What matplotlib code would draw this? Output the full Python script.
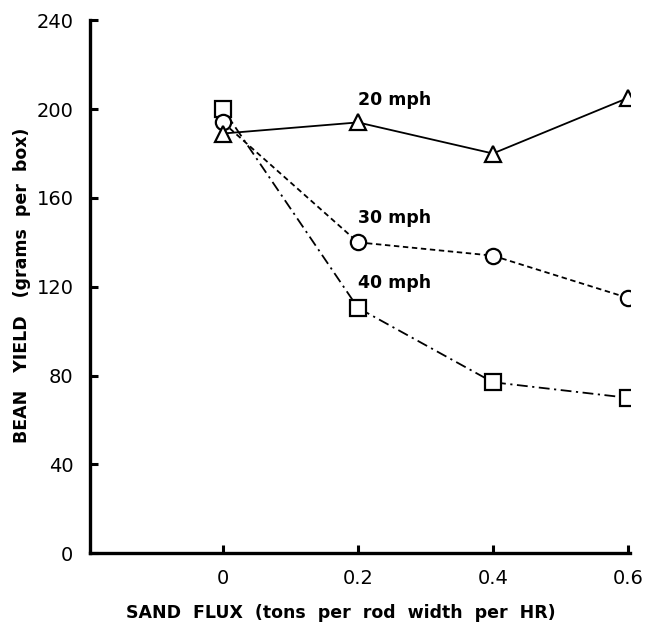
import matplotlib
matplotlib.use("Agg")
import matplotlib.pyplot as plt

flux = [0.0, 0.2, 0.4, 0.6]
yield_20 = [189, 194, 180, 205]
yield_30 = [194, 140, 134, 115]
yield_40 = [200, 110.5, 77, 70]
series_labels = ["20 mph", "30 mph", "40 mph"]
label_pos = [(0.2, 204), (0.2, 151), (0.2, 121.5)]
xticks = [0, 0.2, 0.4, 0.6]
xtick_labels = ["0", "0.2", "0.4", "0.6"]
yticks = [0, 40, 80, 120, 160, 200, 240]

plt.rcParams['font.family'] = ['DejaVu Sans']
fig = plt.figure(figsize=(6.48, 6.33), dpi=100)
ax = fig.add_axes([0.139, 0.126, 0.833, 0.842])

lw = 1.3
mew = 1.6
ax.plot(flux, yield_40, linestyle=(0, (6, 2.5, 1.2, 2.5)), color='black', lw=lw,
        marker='s', markersize=12, markerfacecolor='white', markeredgecolor='black',
        markeredgewidth=mew, zorder=3)
ax.plot(flux, yield_30, linestyle=(0, (3, 2)), color='black', lw=lw,
        marker='o', markersize=11, markerfacecolor='white', markeredgecolor='black',
        markeredgewidth=mew, zorder=4)
ax.plot(flux, yield_20, linestyle='-', color='black', lw=lw,
        marker='^', markersize=11, markerfacecolor='white', markeredgecolor='black',
        markeredgewidth=mew, zorder=5)

for txt, (x, y) in zip(series_labels, label_pos):
    ax.text(x, y, txt, fontsize=12.5, fontweight='bold', ha='left', va='center')

ax.set_xlim(-0.197, 0.603)
ax.set_ylim(0, 240)
ax.set_xticks(xticks)
ax.set_xticklabels(xtick_labels)
ax.set_yticks(yticks)

for s in ['top', 'right']:
    ax.spines[s].set_visible(False)
for s in ['left', 'bottom']:
    ax.spines[s].set_linewidth(2.4)

ax.tick_params(axis='both', direction='in', length=6, width=2.2, labelsize=14)
ax.tick_params(axis='y', pad=12)
ax.tick_params(axis='x', pad=11)

fig.text(0.526, 0.031, "SAND  FLUX  (tons  per  rod  width  per  HR)", fontsize=12.5,
         fontweight='bold', ha='center', va='center')
fig.text(0.034, 0.55, "BEAN   YIELD   (grams  per  box)", fontsize=12.5,
         fontweight='bold', ha='center', va='center', rotation=90)

fig.savefig("out.png", dpi=100)
